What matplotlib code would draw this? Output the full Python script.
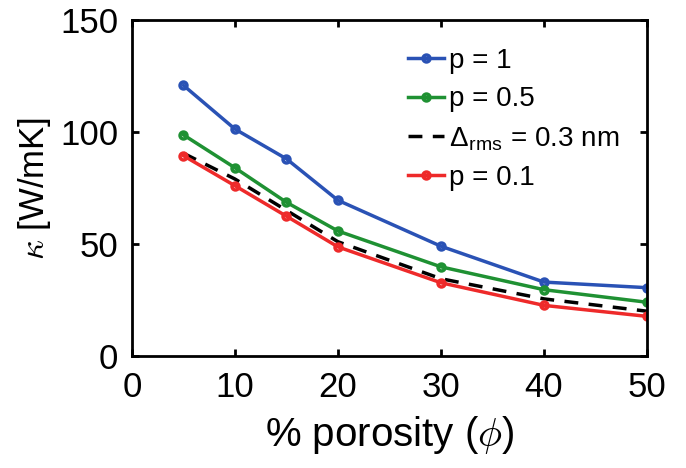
import matplotlib.pyplot as plt
import numpy as np

plt.rcParams['font.family'] = ['Liberation Sans', 'DejaVu Sans']
plt.rcParams['mathtext.fontset'] = 'cm'

# porosity (%) and thermal conductivity (W/mK)
porosity = [5, 10, 15, 20, 30, 40, 50]
k_p1 = [120.8, 101.3, 88.0, 69.5, 49.0, 33.0, 30.5]
k_p05 = [98.7, 84.0, 68.6, 55.8, 39.8, 29.6, 24.0]
k_rms = [90.5, 79.0, 65.0, 51.0, 34.5, 25.5, 20.0]
k_p01 = [89.4, 76.0, 62.4, 48.7, 32.7, 22.6, 17.7]

fig = plt.figure(figsize=(6.86, 4.68), dpi=100)
ax = fig.add_axes([0.1924, 0.2393, 0.7507, 0.718])

ax.plot(porosity, k_p1, '-o', color='#2a52b5', lw=2.5, ms=5, mfc='none', mew=2.5, label='p = 1')
ax.plot(porosity, k_p05, '-o', color='#1f9133', lw=2.5, ms=5, mfc='none', mew=2.5, label='p = 0.5')
ax.plot(porosity, k_rms, '--', color='black', lw=2.5, dashes=(4, 3), label='Δ$_\\mathregular{rms}$ = 0.3 nm')
ax.plot(porosity, k_p01, '-o', color='#ee2a2a', lw=2.5, ms=5, mfc='none', mew=2.5, label='p = 0.1')

ax.set_xlim(0, 50)
ax.set_ylim(0, 150)
ax.set_xticks([0, 10, 20, 30, 40, 50])
ax.set_yticks([0, 50, 100, 150])
ax.tick_params(direction='in', width=2, length=5, top=True, right=True)
ax.tick_params(axis='x', labelsize=25, pad=11)
ax.tick_params(axis='y', labelsize=25, pad=10)
for s in ax.spines.values():
    s.set_linewidth(2)

ax.set_xlabel('% porosity ($\\phi$)', fontsize=29, labelpad=7)
ax.set_ylabel('$\\kappa$ [W/mK]', fontsize=25, labelpad=5)

ax.legend(loc='upper right', frameon=False, fontsize=20, handlelength=1.3,
          handletextpad=0.2, labelspacing=0.45, borderaxespad=0.3,
          bbox_to_anchor=(0.985, 0.975))

plt.savefig('out.png')
